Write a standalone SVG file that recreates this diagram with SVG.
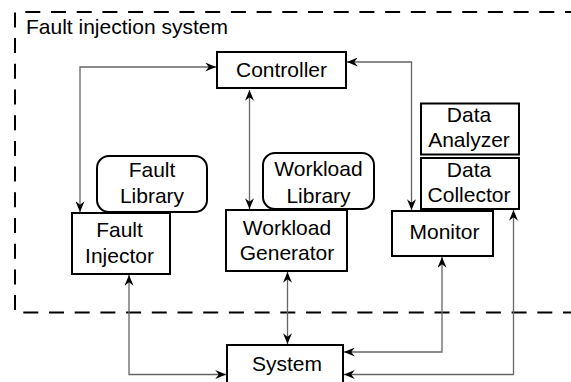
<svg xmlns="http://www.w3.org/2000/svg" width="571" height="382" viewBox="0 0 571 382">
<defs>
<style>
.box{fill:#fff;stroke:#000;stroke-width:2}
.t{font-family:"Liberation Sans",Arial,sans-serif;font-size:21px;fill:#000;text-anchor:middle}
.c{fill:none;stroke:#666;stroke-width:1.3}
.border{fill:none;stroke:#000;stroke-width:2;stroke-dasharray:15 10.7}
</style>
<marker id="ah" viewBox="0 0 12 10" markerWidth="12" markerHeight="9" refX="12" refY="5" orient="auto-start-reverse" markerUnits="userSpaceOnUse">
<path d="M0,0 L12,5 L0,10 L4,5 Z" fill="#000"/>
</marker>
</defs>
<rect width="571" height="382" fill="#fff"/>
<g id="fis-border">
<path class="border" d="M580,12 L15,12 L15,312.5 L580,312.5"/>
<text x="26" y="34" class="t" style="text-anchor:start">Fault injection system</text>
</g>
<g id="connectors">
<path class="c" d="M80,212 L80,67 L216,67" marker-start="url(#ah)" marker-end="url(#ah)"/>
<path class="c" d="M347,62 L411.5,62 L411.5,210" marker-start="url(#ah)" marker-end="url(#ah)"/>
<path class="c" d="M249.5,90 L249.5,209" marker-start="url(#ah)" marker-end="url(#ah)"/>
<path class="c" d="M129,275 L129,374.5 L226,374.5" marker-start="url(#ah)" marker-end="url(#ah)"/>
<path class="c" d="M287.5,272 L287.5,344" marker-start="url(#ah)" marker-end="url(#ah)"/>
<path class="c" d="M442,257 L442,352 L344,352" marker-start="url(#ah)" marker-end="url(#ah)"/>
<path class="c" d="M513.5,210 L513.5,374.5 L344,374.5" marker-start="url(#ah)" marker-end="url(#ah)"/>
</g>
<g id="controller">
<rect class="box" x="217" y="52" width="129" height="36"/>
<text class="t" x="281.5" y="77">Controller</text>
</g>
<g id="fault-library">
<rect class="box" x="97" y="156" width="110" height="56" rx="12"/>
<text class="t" x="152" y="177">Fault</text>
<text class="t" x="152" y="203">Library</text>
</g>
<g id="workload-library">
<rect class="box" x="263" y="153" width="111" height="56" rx="12"/>
<text class="t" x="318.5" y="176">Workload</text>
<text class="t" x="318.5" y="202.5">Library</text>
</g>
<g id="fault-injector">
<rect class="box" x="72" y="213" width="98" height="61"/>
<text class="t" x="119.5" y="236.5">Fault</text>
<text class="t" x="119.5" y="262.5">Injector</text>
</g>
<g id="workload-generator">
<rect class="box" x="226" y="210" width="121" height="61"/>
<text class="t" x="287" y="234.5">Workload</text>
<text class="t" x="287" y="259.5">Generator</text>
</g>
<g id="data-analyzer">
<rect class="box" x="421" y="103.5" width="98" height="51"/>
<text class="t" x="469" y="121.5">Data</text>
<text class="t" x="469" y="147">Analyzer</text>
</g>
<g id="data-collector">
<rect class="box" x="421" y="158" width="98" height="51"/>
<text class="t" x="469" y="177">Data</text>
<text class="t" x="469" y="201.5">Collector</text>
</g>
<g id="monitor">
<rect class="box" x="392" y="211" width="101" height="45"/>
<text class="t" x="444.5" y="238.5">Monitor</text>
</g>
<g id="system">
<rect class="box" x="227" y="345" width="116" height="45"/>
<text class="t" x="287" y="371">System</text>
</g>
</svg>
